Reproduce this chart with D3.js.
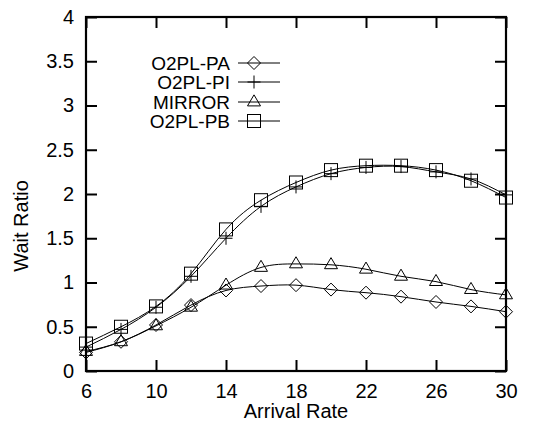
<!DOCTYPE html>
<html><head><meta charset="utf-8">
<script src="https://cdn.jsdelivr.net/npm/d3@7"></script>
<style>body{margin:0;background:#fff}svg{display:block}text{font-family:"Liberation Sans",Arial,sans-serif;fill:#000}</style>
</head><body><svg id="c" width="536" height="425"></svg>
<script>
const arrivalRates = [6,8,10,12,14,16,18,20,22,24,26,28,30];
const o2plPA = [0.21,0.33,0.52,0.745,0.91,0.96,0.97,0.92,0.885,0.84,0.78,0.73,0.67];
const o2plPI = [0.27,0.47,0.72,1.07,1.50,1.86,2.08,2.23,2.30,2.31,2.25,2.17,1.99];
const mirror = [0.22,0.33,0.51,0.72,0.97,1.17,1.21,1.20,1.15,1.07,1.01,0.92,0.86];
const o2plPB = [0.31,0.50,0.73,1.10,1.60,1.93,2.13,2.27,2.32,2.32,2.27,2.15,1.96];
const seriesNames = ["O2PL-PA","O2PL-PI","MIRROR","O2PL-PB"];
const xTicks = [6,10,14,18,22,26,30];
const yTicks = [0,0.5,1,1.5,2,2.5,3,3.5,4];

const svg = d3.select("#c");
const L=86,R=506,T=17,B=371, FS=20, LFS=19, TK=11;
const x = d3.scaleLinear().domain([6,30]).range([L,R]);
const y = d3.scaleLinear().domain([0,4]).range([B,T]);

const series = [
  {name:seriesNames[0], vals:o2plPA, marker:"diamond"},
  {name:seriesNames[1], vals:o2plPI, marker:"plus"},
  {name:seriesNames[2], vals:mirror, marker:"triangle"},
  {name:seriesNames[3], vals:o2plPB, marker:"square"}
];

function drawMarker(g, type, cx, cy){
  const s=6.5;
  if(type==="diamond") g.append("path").attr("d",`M${cx},${cy-s}L${cx+s},${cy}L${cx},${cy+s}L${cx-s},${cy}Z`);
  else if(type==="plus") g.append("path").attr("d",`M${cx-s},${cy}H${cx+s}M${cx},${cy-s}V${cy+s}`);
  else if(type==="square") g.append("rect").attr("x",cx-s).attr("y",cy-s).attr("width",2*s).attr("height",2*s);
  else if(type==="triangle") g.append("path").attr("d",`M${cx},${cy-s*1.1}L${cx+s},${cy+s*0.6}L${cx-s},${cy+s*0.6}Z`);
}

const xAxB = d3.axisBottom(x).tickValues(xTicks).tickSizeInner(-TK).tickSizeOuter(0).tickFormat(d3.format("d"));
const xAxT = d3.axisTop(x).tickValues(xTicks).tickSizeInner(-TK).tickSizeOuter(0).tickFormat("");
const yAxL = d3.axisLeft(y).tickValues(yTicks).tickSizeInner(-TK).tickSizeOuter(0).tickFormat(d3.format("~g"));
const yAxR = d3.axisRight(y).tickValues(yTicks).tickSizeInner(-TK).tickSizeOuter(0).tickFormat("");
function styleAxis(g){
  g.select(".domain").remove();
  g.selectAll(".tick line").attr("stroke","#000").attr("stroke-width",2);
  g.selectAll("text").attr("font-size",FS).attr("font-family","Liberation Sans, Arial, sans-serif").attr("fill","#000");
}
svg.append("g").attr("transform",`translate(0,${B})`).call(xAxB).call(styleAxis)
  .selectAll("text").attr("dy",null).attr("y",27);
svg.append("g").attr("transform",`translate(0,${T})`).call(xAxT).call(styleAxis);
svg.append("g").attr("transform",`translate(${L},0)`).call(yAxL).call(styleAxis)
  .selectAll("text").attr("x",-12);
svg.append("g").attr("transform",`translate(${R},0)`).call(yAxR).call(styleAxis);

svg.append("rect").attr("x",L).attr("y",T).attr("width",R-L).attr("height",B-T)
  .attr("fill","none").attr("stroke","#000").attr("stroke-width",2.2);

const line = d3.line().x((d,i)=>x(arrivalRates[i])).y(d=>y(d)).curve(d3.curveNatural);
const plot = svg.append("g").attr("fill","none").attr("stroke","#000").attr("stroke-width",1);
series.forEach(s=>{
  plot.append("path").attr("d",line(s.vals));
  const mg = plot.append("g");
  s.vals.forEach((v,i)=>drawMarker(mg,s.marker,x(arrivalRates[i]),y(v)));
});

const lg = svg.append("g");
const rowsY=[63,82,102,121];
series.forEach((s,i)=>{
  const cy=rowsY[i];
  lg.append("text").attr("x",230).attr("y",cy+7).attr("text-anchor","end").attr("font-size",LFS).text(s.name);
  lg.append("line").attr("x1",238).attr("x2",280).attr("y1",cy).attr("y2",cy).attr("stroke","#000").attr("stroke-width",1);
  const mg=lg.append("g").attr("fill","none").attr("stroke","#000").attr("stroke-width",1);
  drawMarker(mg,s.marker,254,cy);
});

svg.append("text").attr("x",296).attr("y",418).attr("text-anchor","middle").attr("font-size",FS).text("Arrival Rate");
svg.append("text").attr("transform","translate(28,226) rotate(-90)").attr("text-anchor","middle").attr("font-size",FS).text("Wait Ratio");
</script></body></html>
